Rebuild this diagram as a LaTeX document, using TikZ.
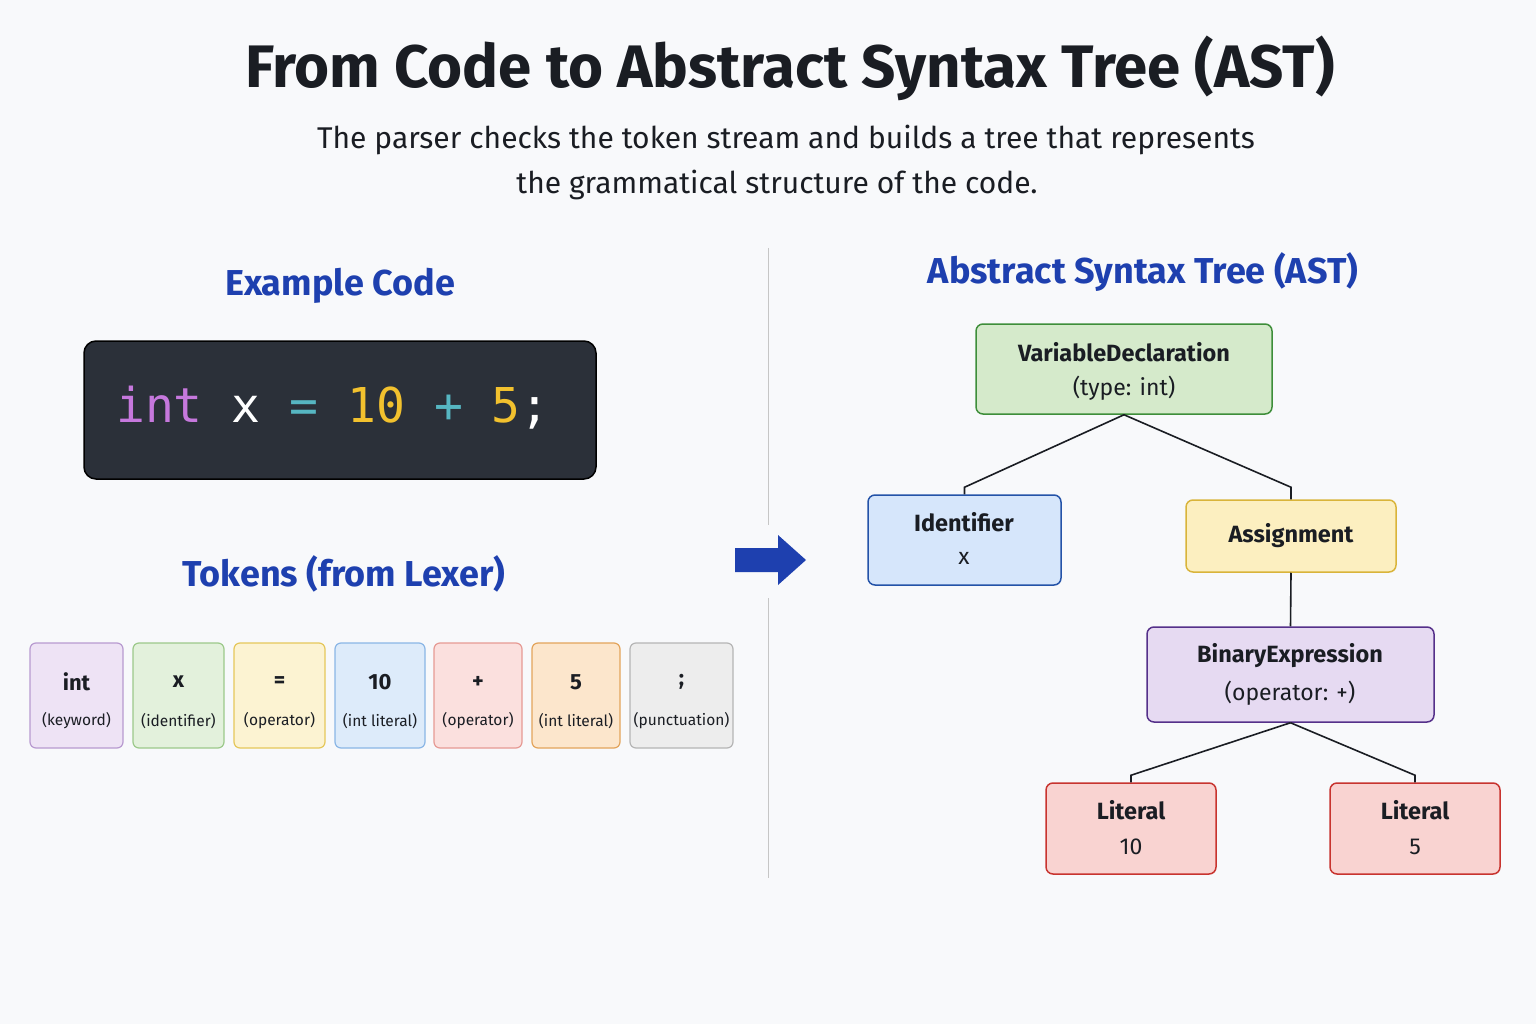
\documentclass[tikz,border=0pt]{standalone}
\usepackage{fontspec}
\setmainfont{Fira Sans}
\newfontfamily\codefont{DejaVu Sans Mono}
\usetikzlibrary{calc}
\definecolor{bg}{HTML}{F8F9FB}
\definecolor{hblue}{HTML}{1E40AF}
\definecolor{ink}{HTML}{1A1D23}
\definecolor{codebg}{HTML}{2B3039}
\begin{document}
\begin{tikzpicture}[x=1pt,y=-1pt,
 tok/.style 2 args={draw=#2,fill=#1,rounded corners=6pt,line width=1.2pt,minimum height=105pt,inner sep=0pt},
 ast/.style 2 args={draw=#2,fill=#1,rounded corners=7pt,line width=1.5pt,inner sep=0pt},
 lab/.style={font=\fontsize{22}{26}\selectfont\bfseries,text=ink},
 sub/.style={font=\fontsize{15.5}{20}\selectfont,text=ink},
 alab/.style={font=\fontsize{23.5}{27}\selectfont\bfseries,text=ink},
 asub/.style={font=\fontsize{23}{26}\selectfont,text=ink},
 head/.style={font=\fontsize{36}{40}\selectfont\bfseries,text=hblue},
 conn/.style={line width=1.6pt,draw=ink}]
\fill[bg] (0,0) rectangle (1536,1024);
\node[font=\fontsize{60}{70}\selectfont\bfseries,text=ink] (title) at (790,68) {From Code to Abstract Syntax Tree (AST)};
\node[font=\fontsize{30}{34}\selectfont,text=ink] (st1) at (786,140) {The parser checks the token stream and builds a tree that represents};
\node[font=\fontsize{30}{34}\selectfont,text=ink] (st2) at (777,185) {the grammatical structure of the code.};
\draw[line width=1pt,gray!45] (768,248) -- (768,525) (768,598) -- (768,878);
\fill[hblue] (735,548) -- (778,548) -- (778,535) -- (806,560) -- (778,585) -- (778,572) -- (735,572) -- cycle;
\node[head] (h1) at (340,286) {Example Code};
\node[draw=black,fill=codebg,line width=1.5pt,rounded corners=12pt,minimum width=512pt,minimum height=138pt] (code) at (340,410) {};
\node[anchor=west,font=\codefont\fontsize{48}{50}\selectfont,inner sep=0pt] (ct) at (116,408) {\textcolor[HTML]{C678DD}{int} \textcolor{white}{x} \textcolor[HTML]{56B6C2}{=} \textcolor[HTML]{F2C12E}{10} \textcolor[HTML]{56B6C2}{+} \textcolor[HTML]{F2C12E}{5}\textcolor{white}{;}};
\node[head] (h2) at (344,574) {Tokens (from Lexer)};
\foreach \n/\a/\b/\f/\d/\l/\s in {t1/30/123/EEE3F5/B89AD0/int/(keyword), t2/133/224/E3F1DC/9CC98A/x/(identifier), t3/234/325/FCF3D2/E5C75A/=/(operator), t4/335/425/DDEBFA/8AB6E6/10/(int literal), t5/434/522/FBE0DE/E69A94/+/(operator), t6/532/620/FCE6CC/E3A45B/5/(int literal), t7/630/733/EDEDED/B5B5B5/;/(punctuation)}{
 \definecolor{f\n}{HTML}{\f}\definecolor{d\n}{HTML}{\d}
 \node[tok={f\n}{d\n},minimum width={\b-\a}] (\n) at ({(\a+\b)/2},695.5) {};
 \node[lab] at ({(\a+\b)/2},682) {\l};
 \node[sub] at ({(\a+\b)/2},721) {\s};
}
\node[head] (h3) at (1143,272) {Abstract Syntax Tree (AST)};
\definecolor{gf}{HTML}{D5EACB}\definecolor{gd}{HTML}{3E8E3A}
\definecolor{bf}{HTML}{D6E6FB}\definecolor{bd}{HTML}{2453A8}
\definecolor{yf}{HTML}{FCEFC0}\definecolor{yd}{HTML}{D9B43A}
\definecolor{pf}{HTML}{E6DAF2}\definecolor{pd}{HTML}{55308A}
\definecolor{rf}{HTML}{F9D3D1}\definecolor{rd}{HTML}{C8342F}
\node[ast={gf}{gd},minimum width=296pt,minimum height=90pt] (vd) at (1124,369) {};
\node[alab] at (1124,352) {VariableDeclaration}; \node[asub] at (1124,388) {(type: int)};
\node[ast={bf}{bd},minimum width=193pt,minimum height=90pt] (id) at (964.5,540) {};
\node[alab] at (964,522) {Identifier}; \node[asub] at (964,558) {x};
\node[ast={yf}{yd},minimum width=210pt,minimum height=72pt] (as) at (1291,536) {};
\node[alab] at (1291,536) {Assignment};
\node[ast={pf}{pd},minimum width=287pt,minimum height=95pt] (be) at (1290.5,674.5) {};
\node[alab] at (1290,656) {BinaryExpression}; \node[asub] at (1290,693) {(operator: +)};
\node[ast={rf}{rd},minimum width=170pt,minimum height=91pt] (l1) at (1131,828.5) {};
\node[alab] at (1131,810) {Literal}; \node[asub] at (1131,847) {10};
\node[ast={rf}{rd},minimum width=170pt,minimum height=91pt] (l2) at (1415,828.5) {};
\node[alab] at (1415,810) {Literal}; \node[asub] at (1415,847) {5};
\draw[conn] (vd.south) -- ($(id.north)+(0,-7)$) -- (id.north);
\draw[conn] (vd.south) -- ($(as.north)+(0,-12)$) -- (as.north);
\draw[conn] (as.south) -- (be.north);
\draw[conn] (be.south) -- ($(l1.north)+(0,-7)$) -- (l1.north);
\draw[conn] (be.south) -- ($(l2.north)+(0,-7)$) -- (l2.north);
\end{tikzpicture}
\end{document}
